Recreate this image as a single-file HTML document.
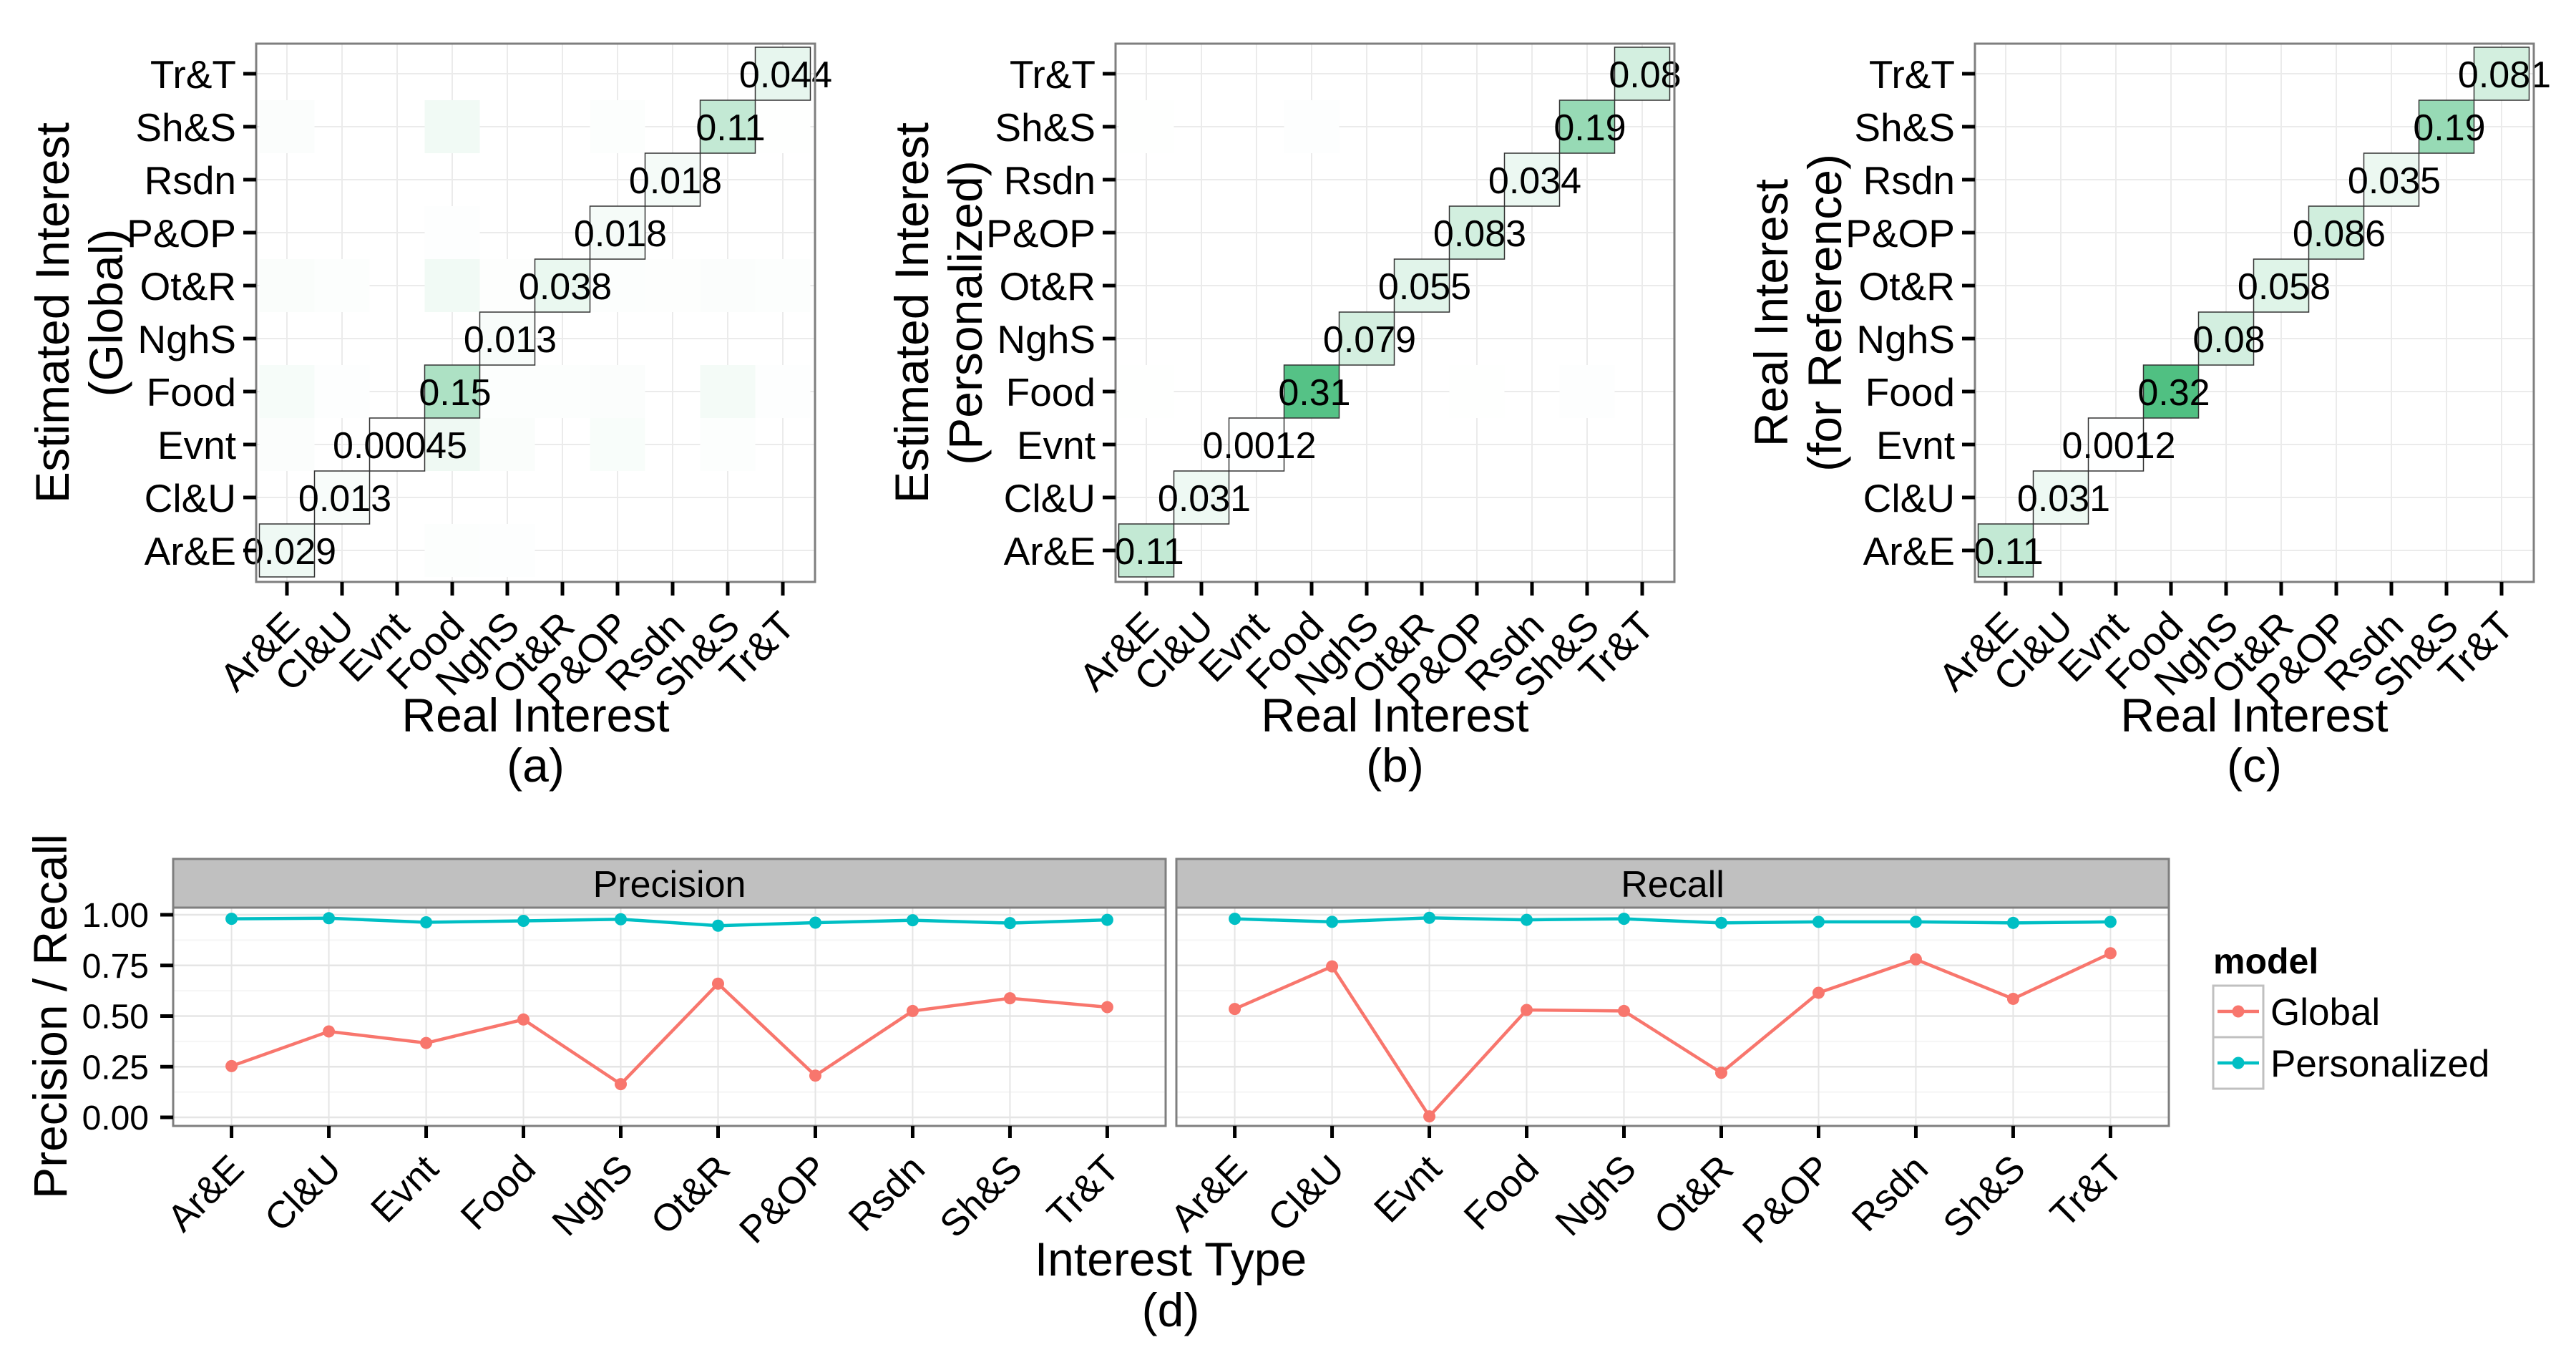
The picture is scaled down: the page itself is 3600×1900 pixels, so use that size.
<!DOCTYPE html>
<html><head><meta charset="utf-8"><style>
html,body{margin:0;padding:0;background:#fff}
svg{display:block;font-family:"Liberation Sans",sans-serif}
</style></head><body>
<svg id="fig" width="3600" height="1900" viewBox="0 0 3600 1900" xmlns="http://www.w3.org/2000/svg">
<rect width="3600" height="1900" fill="#fff"/>
</svg>
<script>
const cats = ["Ar&E","Cl&U","Evnt","Food","NghS","Ot&R","P&OP","Rsdn","Sh&S","Tr&T"];
const diagA = [0.029,0.013,0.00045,0.15,0.013,0.038,0.018,0.018,0.11,0.044];
const diagB = [0.11,0.031,0.0012,0.31,0.079,0.055,0.083,0.034,0.19,0.08];
const diagC = [0.11,0.031,0.0012,0.32,0.08,0.058,0.086,0.035,0.19,0.081];
// off-diagonal [rowIndex(estimated), colIndex(real), value]
const offA = [[8,0,0.008],[8,3,0.025],[8,6,0.006],[8,9,0.002],[5,0,0.01],[5,1,0.005],[5,3,0.025],[5,4,0.004],[5,6,0.006],[5,7,0.004],[5,8,0.008],[5,9,0.006],[3,0,0.016],[3,1,0.003],[3,4,0.006],[3,5,0.006],[3,6,0.008],[3,8,0.02],[3,9,0.003],[2,0,0.008],[2,3,0.03],[2,4,0.01],[2,6,0.012],[2,8,0.006],[0,3,0.006],[0,4,0.003],[6,3,0.003]];
const offB = [[8,0,0.002],[8,3,0.003],[3,0,0.002],[3,8,0.003],[3,6,0.002]];
const offC = [];
const precGlobal = [0.253,0.424,0.367,0.483,0.164,0.660,0.206,0.525,0.588,0.544];
const precPers = [0.980,0.983,0.963,0.970,0.978,0.946,0.961,0.973,0.959,0.975];
const recGlobal = [0.535,0.745,0.005,0.53,0.525,0.22,0.615,0.78,0.585,0.81];
const recPers = [0.98,0.965,0.985,0.975,0.98,0.96,0.965,0.965,0.96,0.965];
const yTicks = [0,0.25,0.5,0.75,1.0];
const yTickLabels = ["0.00","0.25","0.50","0.75","1.00"];

const svg = document.getElementById('fig');
const NS = "http://www.w3.org/2000/svg";
function mk(tag, attrs, parent, text){
  const e = document.createElementNS(NS, tag);
  for (const k in attrs) e.setAttribute(k, attrs[k]);
  if (text !== undefined) e.textContent = text;
  (parent||svg).appendChild(e);
  return e;
}
function fillFor(v){
  const f = Math.min(1, v/0.32);
  const r = Math.round(255 + (80-255)*f), g = Math.round(255 + (192-255)*f), b = Math.round(255 + (130-255)*f);
  return `rgb(${r},${g},${b})`;
}

function heatmap(x0, diag, off, title1, title2, tag, name){
  const g = mk('g', {});
  
  
  const bx0 = x0, bx1 = x0+781, by0 = 61, by1 = 813;
  const cw = 77, ch = 74;
  const xc = i => x0 + 43 + i*cw;
  const yc = j => 103 + (9-j)*ch;
  mk('rect', {x:bx0,y:by0,width:781,height:752,fill:'#fff'}, g);
  for (let i=0;i<10;i++){
    mk('line',{x1:xc(i),x2:xc(i),y1:by0,y2:by1,stroke:'#ebebeb','stroke-width':2},g);
    mk('line',{x1:bx0,x2:bx1,y1:yc(i),y2:yc(i),stroke:'#ebebeb','stroke-width':2},g);
  }
  off.forEach(o=>{
    const c = mk('rect',{x:xc(o[1])-cw/2,y:yc(o[0])-ch/2,width:cw,height:ch,fill:fillFor(o[2])},g);
    
    
  });
  diag.forEach((v,i)=>{
    const c = mk('rect',{x:xc(i)-cw/2,y:yc(i)-ch/2,width:cw,height:ch,fill:fillFor(v),stroke:'#333','stroke-width':1.5},g);
    
    
  });
  diag.forEach((v,i)=>{
    const t = mk('text',{x:xc(i)+4,y:yc(i)+19,'text-anchor':'middle','font-size':52,fill:'#000'},g,String(v));
    
    
  });
  mk('rect',{x:bx0,y:by0,width:781,height:752,fill:'none',stroke:'#7f7f7f','stroke-width':3},g);
  for (let i=0;i<10;i++){
    mk('line',{x1:bx0-18,x2:bx0,y1:yc(i),y2:yc(i),stroke:'#000','stroke-width':5},g);
    const yl = mk('text',{x:bx0-28,y:yc(i)+20,'text-anchor':'end','font-size':55},g,cats[i]);
    
    
    mk('line',{x1:xc(i),x2:xc(i),y1:by1,y2:by1+19,stroke:'#000','stroke-width':5},g);
    const xl = mk('text',{x:0,y:0,'text-anchor':'end','font-size':55,transform:`translate(${xc(i)+20},878) rotate(-45)`},g,cats[i]);
    
    
  }
  const xt = mk('text',{x:(bx0+bx1)/2,y:1022,'text-anchor':'middle','font-size':66},g,'Real Interest');
  
  
  const tg = mk('text',{x:(bx0+bx1)/2,y:1092,'text-anchor':'middle','font-size':66},g,tag);
  
  
  const cy = (by0+by1)/2;
  const t1 = mk('text',{x:0,y:0,'text-anchor':'middle','font-size':66,transform:`translate(${x0-262},${cy}) rotate(-90)`},g,title1);
  
  
  const t2 = mk('text',{x:0,y:0,'text-anchor':'middle','font-size':66,transform:`translate(${x0-187},${cy}) rotate(-90)`},g,title2);
  
  
}
heatmap(358, diagA, offA, 'Estimated Interest', '(Global)', '(a)', 'heatmap-global');
heatmap(1559, diagB, offB, 'Estimated Interest', '(Personalized)', '(b)', 'heatmap-personalized');
heatmap(2760, diagC, offC, 'Real Interest', '(for Reference)', '(c)', 'heatmap-reference');

// bottom facet line chart
const pTop = 1268, pBot = 1573;
const yv = v => 1561 - v*283;
function facet(x0, x1, label, gl, ps, name){
  const g = mk('g',{});
  
  
  const w = x1-x0, unit = w/10.2;
  const xv = i => x0 + (0.6+i)*unit;
  mk('rect',{x:x0,y:1200,width:w,height:68,fill:'#c0c0c0',stroke:'#7f7f7f','stroke-width':3},g);
  const st = mk('text',{x:(x0+x1)/2,y:1253,'text-anchor':'middle','font-size':52},g,label);
  
  
  mk('rect',{x:x0,y:pTop,width:w,height:pBot-pTop,fill:'#fff'},g);
  for (let k=0;k<4;k++){
    const v = yTicks[k]+0.125;
    mk('line',{x1:x0,x2:x1,y1:yv(v),y2:yv(v),stroke:'#f5f5f5','stroke-width':2},g);
  }
  yTicks.forEach(v=>mk('line',{x1:x0,x2:x1,y1:yv(v),y2:yv(v),stroke:'#e5e5e5','stroke-width':2.5},g));
  for (let i=0;i<10;i++) mk('line',{x1:xv(i),x2:xv(i),y1:pTop,y2:pBot,stroke:'#e5e5e5','stroke-width':2},g);
  [[gl,'#F8766D','global'],[ps,'#00BFC4','personalized']].forEach(([arr,col,nm])=>{
    const pl = mk('polyline',{points:arr.map((v,i)=>xv(i)+','+yv(v)).join(' '),fill:'none',stroke:col,'stroke-width':4.5},g);
    
    
    arr.forEach((v,i)=>{
      const c = mk('circle',{cx:xv(i),cy:yv(v),r:8.5,fill:col},g);
      
      
    });
  });
  mk('rect',{x:x0,y:pTop,width:w,height:pBot-pTop,fill:'none',stroke:'#7f7f7f','stroke-width':3},g);
  for (let i=0;i<10;i++){
    mk('line',{x1:xv(i),x2:xv(i),y1:pBot,y2:pBot+17,stroke:'#000','stroke-width':5},g);
    const xl = mk('text',{x:0,y:0,'text-anchor':'end','font-size':53,transform:`translate(${xv(i)+20},1636) rotate(-45)`},g,cats[i]);
    
    
  }
}
facet(242, 1629, 'Precision', precGlobal, precPers, 'facet-precision');
facet(1644, 3031, 'Recall', recGlobal, recPers, 'facet-recall');
yTicks.forEach((v,k)=>{
  mk('line',{x1:224,x2:242,y1:yv(v),y2:yv(v),stroke:'#000','stroke-width':5});
  const t = mk('text',{x:208,y:yv(v)+17,'text-anchor':'end','font-size':48},svg,yTickLabels[k]);
  
  
});
const yt = mk('text',{x:0,y:0,'text-anchor':'middle','font-size':66,transform:'translate(93,1420) rotate(-90)'},svg,'Precision / Recall');


const xt = mk('text',{x:1636,y:1782,'text-anchor':'middle','font-size':66},svg,'Interest Type');


const dt = mk('text',{x:1636,y:1853,'text-anchor':'middle','font-size':66},svg,'(d)');



// legend
const lg = mk('g',{});


const lt = mk('text',{x:3093,y:1360,'font-size':50,'font-weight':'bold'},lg,'model');


[['Global','#F8766D',1377],['Personalized','#00BFC4',1449]].forEach(([lab,col,y])=>{
  const e = mk('g',{},lg);
  
  
  mk('rect',{x:3093,y:y,width:70,height:72,fill:'#fff',stroke:'#c0c0c0','stroke-width':3},e);
  mk('line',{x1:3099,x2:3157,y1:y+36,y2:y+36,stroke:col,'stroke-width':4.5},e);
  mk('circle',{cx:3128,cy:y+36,r:8.5,fill:col},e);
  mk('text',{x:3173,y:y+55,'font-size':53},e,lab);
});
</script>
</body></html>
